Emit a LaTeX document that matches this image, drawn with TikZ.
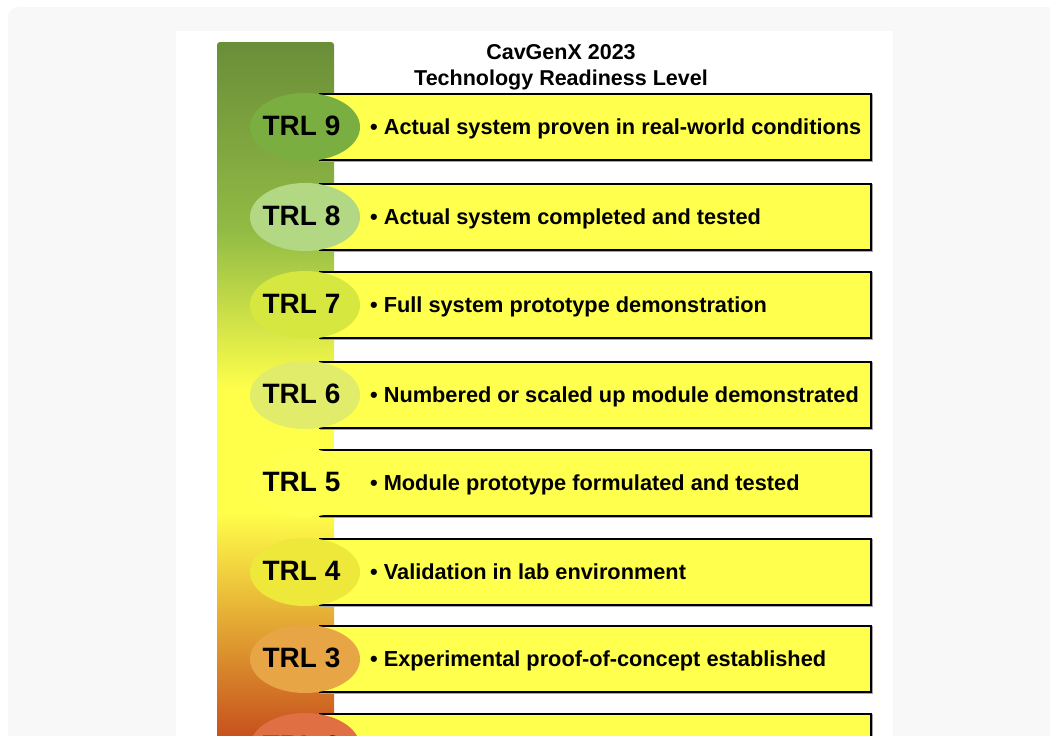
\documentclass[tikz,border=0pt]{standalone}
\usepackage{fontspec}
\setmainfont{Liberation Sans}
\usepackage{tikz}
\usetikzlibrary{shapes.geometric, shadows, positioning}

\definecolor{pagegray}{HTML}{F8F8F8}
\definecolor{boxyellow}{HTML}{FFFF4D}
\definecolor{barA}{HTML}{6A8E38}
\definecolor{barB}{HTML}{92BC45}
\definecolor{barD}{HTML}{D6E63E}
\definecolor{barE}{HTML}{FFFF4A}
\definecolor{barF}{HTML}{E4A43A}
\definecolor{barG}{HTML}{C64C1C}
\definecolor{trlnine}{HTML}{7BAE41}
\definecolor{trleight}{HTML}{B2D884}
\definecolor{trlseven}{HTML}{D6E840}
\definecolor{trlsix}{HTML}{E0EC6A}
\definecolor{trlfive}{HTML}{FFFF4D}
\definecolor{trlfour}{HTML}{EEE83A}
\definecolor{trlthree}{HTML}{E8A545}
\definecolor{trltwo}{HTML}{E07044}

\begin{document}
\begin{tikzpicture}[x=1pt, y=-1pt,
        levelbox/.style={rectangle, draw=black, line width=1.6pt, fill=boxyellow, minimum width=551pt, minimum height=66pt, inner sep=0pt, copy shadow={fill=gray!70, draw=gray!70, shadow xshift=1pt, shadow yshift=-1pt}},
        leveloval/.style={ellipse, minimum width=110pt, minimum height=68pt, inner sep=0pt},
        levellabel/.style={inner sep=0pt, font=\fontsize{28}{30}\selectfont\bfseries},
        leveltext/.style={anchor=base west, inner sep=0pt, font=\fontsize{21.75}{24}\selectfont\bfseries},
        title/.style={align=center, font=\fontsize{21.5}{26}\selectfont\bfseries}
    ]
        \useasboundingbox (0,0) rectangle (1050,736);
        \clip (0,0) rectangle (1050,736);

        % Page and card
        \fill[white] (0,0) rectangle (1050,736);
        \fill[pagegray, rounded corners=10pt] (8,7) rectangle (1080,780);
        \fill[white] (176,31) rectangle (893,780);

        % Colour bar
        \shade[top color=barA, bottom color=barB, rounded corners=3pt] (217,42) rectangle (334,236);
        \shade[top color=barB, middle color=barD, bottom color=barE] (217,232) rectangle (334,390);
        \fill[barE] (217,389) rectangle (334,513);
        \shade[top color=barE, middle color=barF, bottom color=barG] (217,512) rectangle (334,742);

        % Title
        \node[title] (head) at (561,67) {CavGenX 2023\\Technology Readiness Level};

        % Level boxes
        \node[levelbox] (box9) at (595.5,127) {};
        \node[levelbox] (box8) at (595.5,217) {};
        \node[levelbox] (box7) at (595.5,305) {};
        \node[levelbox] (box6) at (595.5,395) {};
        \node[levelbox] (box5) at (595.5,483) {};
        \node[levelbox] (box4) at (595.5,572) {};
        \node[levelbox] (box3) at (595.5,659) {};
        \node[levelbox] (box2) at (595.5,747) {};

        % Level ovals
        \node[leveloval, fill=trlnine] (trl9) at (305,127) {};
        \node[leveloval, fill=trleight] (trl8) at (305,217) {};
        \node[leveloval, fill=trlseven] (trl7) at (305,305) {};
        \node[leveloval, fill=trlsix] (trl6) at (305,395) {};
        \node[leveloval, fill=trlfive] (trl5) at (305,483) {};
        \node[leveloval, fill=trlfour] (trl4) at (305,572) {};
        \node[leveloval, fill=trlthree] (trl3) at (305,659) {};
        \node[leveloval, fill=trltwo] (trl2) at (305,747) {};

        % Level labels
        \node[levellabel] (lab9) at ([xshift=-3.5pt, yshift=1pt]trl9.center) {TRL 9};
        \node[levellabel] (lab8) at ([xshift=-3.5pt, yshift=1pt]trl8.center) {TRL 8};
        \node[levellabel] (lab7) at ([xshift=-3.5pt, yshift=1pt]trl7.center) {TRL 7};
        \node[levellabel] (lab6) at ([xshift=-3.5pt, yshift=1pt]trl6.center) {TRL 6};
        \node[levellabel] (lab5) at ([xshift=-3.5pt, yshift=1pt]trl5.center) {TRL 5};
        \node[levellabel] (lab4) at ([xshift=-3.5pt, yshift=1pt]trl4.center) {TRL 4};
        \node[levellabel] (lab3) at ([xshift=-3.5pt, yshift=1pt]trl3.center) {TRL 3};
        \node[levellabel] (lab2) at ([xshift=-3.5pt, yshift=1pt]trl2.center) {TRL 2};

        % Descriptions
        \node[leveltext] (txt9) at (370,134) {• Actual system proven in real-world conditions};
        \node[leveltext] (txt8) at (370,224) {• Actual system completed and tested};
        \node[leveltext] (txt7) at (370,312) {• Full system prototype demonstration};
        \node[leveltext] (txt6) at (370,402) {• Numbered or scaled up module demonstrated};
        \node[leveltext] (txt5) at (370,490) {• Module prototype formulated and tested};
        \node[leveltext] (txt4) at (370,579) {• Validation in lab environment};
        \node[leveltext] (txt3) at (370,666) {• Experimental proof-of-concept established};

    \end{tikzpicture}
\end{document}
